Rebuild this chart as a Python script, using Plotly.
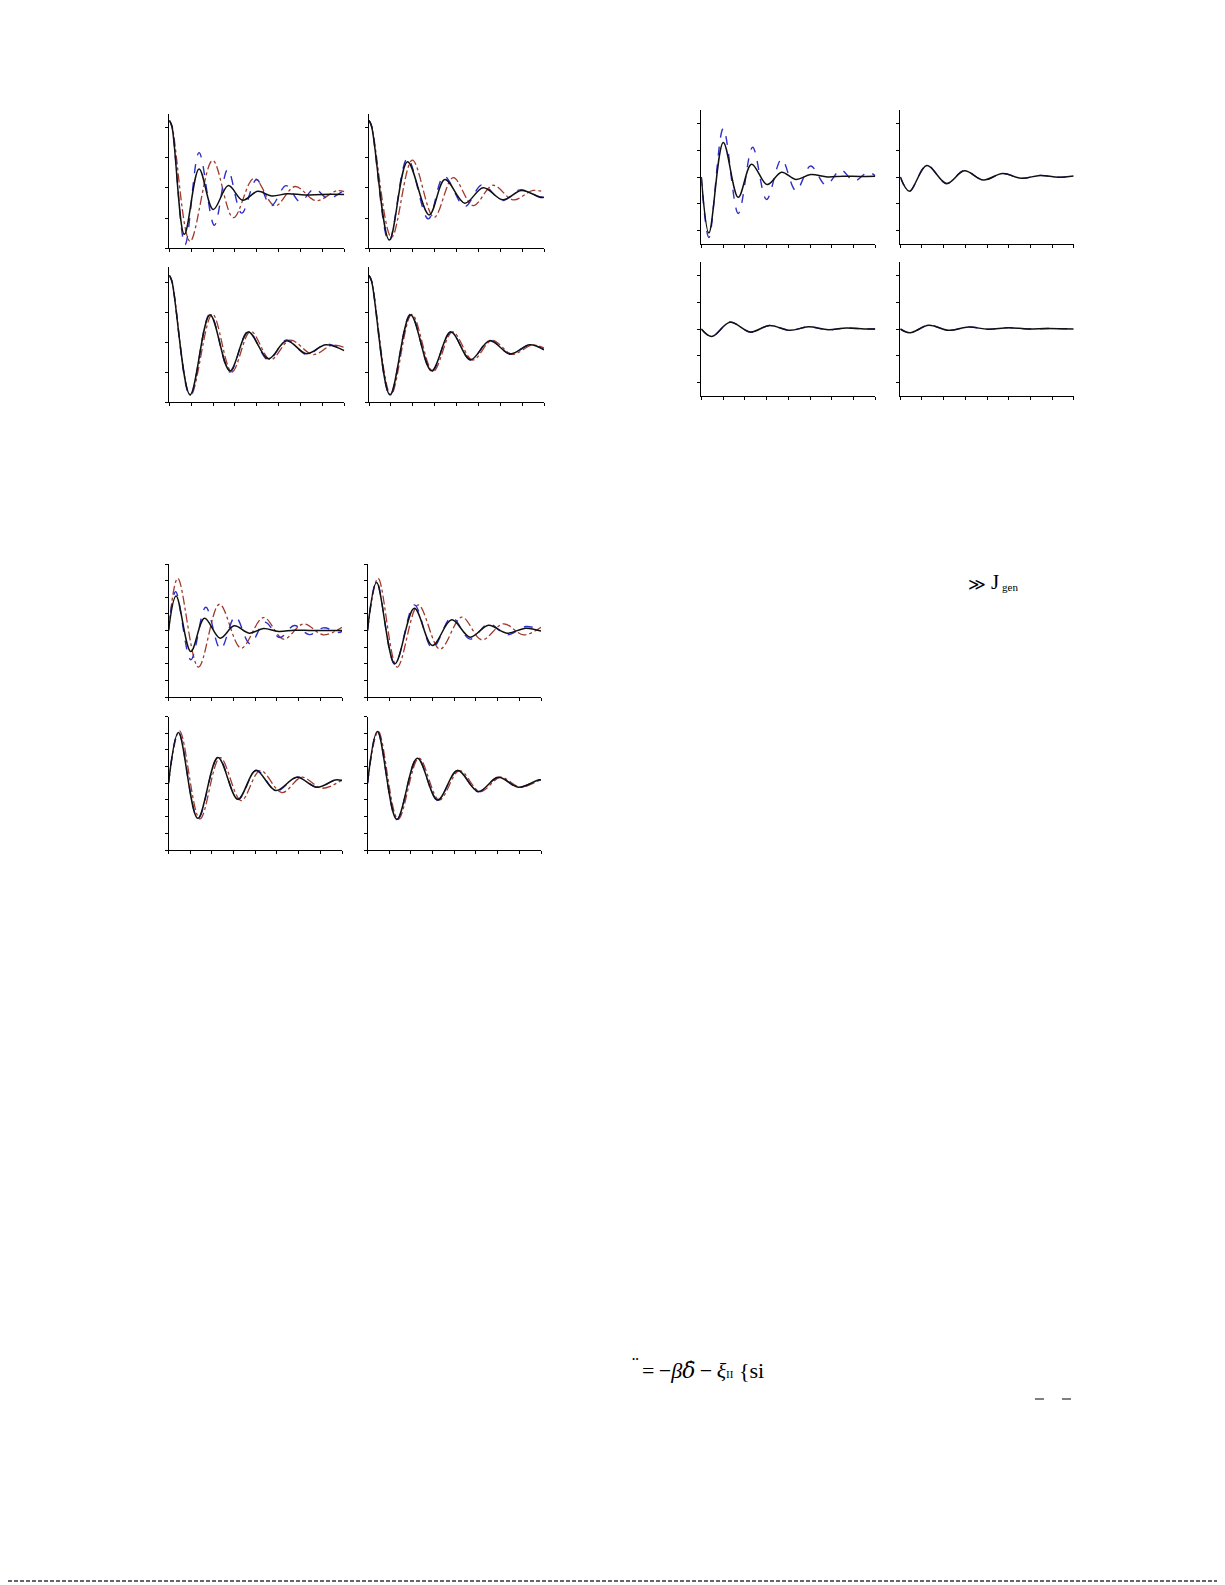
import plotly.graph_objects as go

W, H = 1225, 1585          # page size
OFF = 8                    # default body margin of the html page
FW, FH = W - OFF, H - OFF  # figure size so that the page is exactly filled

# ---------------- data: (time, value) points ----------------
# Group 1 (top-left block)
A1_black = [(0,2.22),(0.12,2.02),(0.69,-1.54),(1.36,0.62),(2.01,-0.72),(2.70,0.07),(3.35,-0.41),(4.04,-0.12),(4.68,-0.27),(5.4,-0.2),(6.2,-0.24),(7.0,-0.22),(8,-0.22)]
A1_blue = [(0,2.22),(0.12,2.02),(0.72,-1.88),(1.36,1.16),(2.06,-1.24),(2.67,0.6),(3.31,-0.84),(3.99,0.27),(4.65,-0.6),(5.34,0.07),(5.98,-0.46),(6.63,-0.04),(7.27,-0.36),(7.93,-0.13),(8,-0.14)]
A1_red = [(0,2.22),(0.12,2.05),(0.95,-1.77),(1.98,0.9),(2.93,-0.99),(3.87,0.31),(4.83,-0.6),(5.75,0.04),(6.71,-0.43),(7.65,-0.1),(8,-0.13)]

A2_black = [(0,2.22),(0.12,2.02),(0.93,-1.73),(1.76,0.86),(2.75,-0.9),(3.47,0.27),(4.38,-0.51),(5.22,0.0),(6.13,-0.4),(6.97,-0.09),(7.85,-0.32),(8,-0.31)]
A2_blue = [(0,2.22),(0.12,2.02),(0.91,-1.78),(1.76,0.97),(2.71,-1.03),(3.43,0.38),(4.38,-0.62),(5.17,0.1),(6.1,-0.42),(6.9,-0.07),(7.8,-0.3),(8,-0.28)]
A2_red = [(0,2.22),(0.12,2.04),(1.03,-1.64),(1.98,0.91),(2.97,-0.98),(3.85,0.33),(4.76,-0.59),(5.67,0.08),(6.59,-0.4),(7.5,-0.09),(8,-0.14)]

A3_black = [(0,2.22),(0.12,2.02),(0.95,-1.76),(1.86,0.91),(2.77,-0.96),(3.61,0.33),(4.53,-0.56),(5.36,0.04),(6.28,-0.39),(7.16,-0.09),(8,-0.29)]
A3_blue = [(0,2.22),(0.12,2.02),(0.95,-1.8),(1.86,0.94),(2.77,-1.0),(3.61,0.36),(4.53,-0.6),(5.36,0.07),(6.28,-0.42),(7.16,-0.07),(8,-0.28)]
A3_red = [(0,2.22),(0.12,2.04),(0.97,-1.78),(1.97,0.93),(2.86,-1.0),(3.72,0.36),(4.63,-0.59),(5.52,0.06),(6.58,-0.42),(7.42,-0.11),(8,-0.18)]

A4_black = [(0,2.22),(0.12,2.02),(0.96,-1.76),(1.9,0.91),(2.86,-0.96),(3.74,0.33),(4.64,-0.59),(5.52,0.04),(6.46,-0.4),(7.35,-0.09),(8,-0.26)]
A4_blue = [(0,2.22),(0.12,2.02),(0.96,-1.78),(1.9,0.93),(2.86,-0.98),(3.74,0.34),(4.64,-0.6),(5.52,0.05),(6.46,-0.41),(7.35,-0.09),(8,-0.25)]
A4_red = [(0,2.22),(0.12,2.04),(1.0,-1.76),(1.96,0.92),(2.93,-0.98),(3.82,0.34),(4.74,-0.6),(5.62,0.05),(6.56,-0.41),(7.45,-0.1),(8,-0.2)]

# Group 2 (top-right block)
B1_black = [(0,0),(0.35,-2.09),(1.01,1.29),(1.7,-0.76),(2.31,0.48),(3.03,-0.28),(3.69,0.18),(4.34,-0.09),(5.03,0.09),(5.8,0.0),(6.5,0.03),(7.3,0.02),(8,0.03)]
B1_blue = [(0,0),(0.35,-2.26),(1.01,1.81),(1.7,-1.36),(2.36,1.11),(3.0,-0.84),(3.69,0.66),(4.35,-0.51),(5.03,0.41),(5.73,-0.3),(6.41,0.26),(7.02,-0.15),(7.68,0.18),(8,0.04)]

B2_black = [(0,0),(0.42,-0.53),(1.22,0.43),(2.14,-0.24),(2.95,0.23),(3.83,-0.11),(4.72,0.13),(5.6,-0.05),(6.45,0.06),(7.29,-0.01),(8,0.04)]
B2_blue = [(0,0),(0.42,-0.54),(1.22,0.44),(2.14,-0.25),(2.95,0.24),(3.83,-0.12),(4.72,0.13),(5.6,-0.05),(6.45,0.06),(7.29,-0.01),(8,0.04)]

B3_black = [(0,0),(0.48,-0.28),(1.32,0.25),(2.27,-0.11),(3.13,0.13),(4.08,-0.05),(4.92,0.08),(5.84,-0.03),(6.68,0.04),(7.5,0.0),(8,0.0)]
B3_blue = [(0,0),(0.48,-0.29),(1.32,0.26),(2.27,-0.12),(3.13,0.13),(4.08,-0.05),(4.92,0.08),(5.84,-0.03),(6.68,0.04),(7.5,0.0),(8,0.0)]

B4_black = [(0,0),(0.45,-0.14),(1.31,0.14),(2.22,-0.05),(3.15,0.075),(4.05,-0.01),(5.0,0.05),(5.9,0.0),(6.8,0.02),(8,0.0)]
B4_blue = [(0,0),(0.45,-0.15),(1.31,0.15),(2.22,-0.05),(3.15,0.08),(4.05,-0.01),(5.0,0.05),(5.9,0.0),(6.8,0.02),(8,0.0)]

# Group 3 (lower-left block)
C1_black = [(0,0),(0.35,2.08),(1.03,-1.26),(1.66,0.74),(2.38,-0.46),(3.03,0.28),(3.72,-0.16),(4.38,0.12),(5.08,-0.06),(5.8,0.02),(6.6,0.0),(7.4,0.0),(8,0.0)]
C1_blue = [(0,0),(0.33,2.34),(1.03,-1.76),(1.72,1.4),(2.4,-1.12),(3.08,0.84),(3.76,-0.8),(4.45,0.5),(5.13,-0.42),(5.8,0.3),(6.5,-0.25),(7.15,0.16),(7.85,-0.12),(8,-0.05)]
C1_red = [(0,0),(0.43,3.14),(1.38,-2.2),(2.35,1.58),(3.35,-1.06),(4.38,0.78),(5.31,-0.52),(6.23,0.4),(7.15,-0.26),(8,0.2)]

C2_black = [(0,0),(0.42,2.88),(1.26,-2.0),(2.16,1.34),(2.99,-0.9),(3.88,0.64),(4.73,-0.4),(5.58,0.32),(6.43,-0.16),(7.3,0.14),(8,-0.04)]
C2_blue = [(0,0),(0.42,2.92),(1.26,-2.04),(2.16,1.54),(2.99,-1.06),(3.88,0.78),(4.73,-0.52),(5.58,0.4),(6.43,-0.26),(7.3,0.24),(8,0.02)]
C2_red = [(0,0),(0.49,3.14),(1.37,-2.2),(2.34,1.54),(3.34,-1.12),(4.35,0.8),(5.27,-0.56),(6.27,0.4),(7.2,-0.26),(8,0.2)]

C3_black = [(0,0),(0.46,3.04),(1.35,-2.1),(2.28,1.54),(3.2,-0.96),(4.03,0.76),(4.95,-0.44),(5.92,0.36),(6.85,-0.24),(7.69,0.2),(8,0.16)]
C3_blue = [(0,0),(0.46,3.06),(1.36,-2.12),(2.29,1.56),(3.21,-0.98),(4.05,0.78),(4.97,-0.46),(5.94,0.37),(6.87,-0.25),(7.7,0.2),(8,0.16)]
C3_red = [(0,0),(0.51,3.14),(1.45,-2.14),(2.38,1.54),(3.35,-1.04),(4.23,0.76),(5.23,-0.56),(6.15,0.36),(7.08,-0.3),(8,0.2)]

C4_black = [(0,0),(0.46,3.1),(1.35,-2.16),(2.3,1.5),(3.23,-1.0),(4.15,0.76),(5.11,-0.5),(6.03,0.36),(6.96,-0.24),(7.88,0.2),(8,0.2)]
C4_blue = [(0,0),(0.46,3.12),(1.35,-2.18),(2.3,1.52),(3.23,-1.02),(4.15,0.77),(5.11,-0.51),(6.03,0.37),(6.96,-0.25),(7.88,0.2),(8,0.2)]
C4_red = [(0,0),(0.5,3.1),(1.41,-2.16),(2.37,1.5),(3.31,-1.0),(4.24,0.76),(5.2,-0.5),(6.13,0.36),(7.06,-0.24),(7.97,0.2),(8,0.2)]

# ---------------- panel layout (page pixel boxes: x0, x1, y_top, y_bottom) ----------------
panels = [
    ("A1", (169.3, 344.3, 113.5, 248.3), (-2, 2.45), [A1_red, A1_blue, A1_black]),
    ("A2", (369.0, 544.0, 113.5, 248.3), (-2, 2.45), [A2_red, A2_blue, A2_black]),
    ("A3", (169.3, 344.3, 267.0, 402.0), (-2, 2.5), [A3_red, A3_blue, A3_black]),
    ("A4", (369.0, 544.0, 267.0, 402.0), (-2, 2.5), [A4_red, A4_blue, A4_black]),
    ("B1", (701.3, 875.3, 110.0, 244.0), (-2.5, 2.5), [None, B1_blue, B1_black]),
    ("B2", (900.3, 1073.7, 110.0, 244.0), (-2.5, 2.5), [None, B2_blue, B2_black]),
    ("B3", (701.3, 875.3, 262.3, 395.7), (-2.5, 2.5), [None, B3_blue, B3_black]),
    ("B4", (900.3, 1073.7, 262.3, 395.7), (-2.5, 2.5), [None, B4_blue, B4_black]),
    ("C1", (168.5, 342.0, 564.0, 697.0), (-4, 4), [C1_red, C1_blue, C1_black]),
    ("C2", (367.5, 541.0, 564.0, 697.0), (-4, 4), [C2_red, C2_blue, C2_black]),
    ("C3", (168.5, 342.0, 716.5, 850.0), (-4, 4), [C3_red, C3_blue, C3_black]),
    ("C4", (367.5, 541.0, 716.5, 850.0), (-4, 4), [C4_red, C4_blue, C4_black]),
]

styles = [
    dict(color="#a03a2c", width=1.3, dash="dashdot"),
    dict(color="#2e2ec8", width=1.4, dash="dash"),
    dict(color="#111111", width=1.5, dash="solid"),
]


def px(x):
    return (x - OFF) / FW


def py(y):
    return 1 - (y - OFF) / FH


fig = go.Figure()
layout = dict(
    width=FW, height=FH, margin=dict(l=0, r=0, t=0, b=0, autoexpand=False),
    paper_bgcolor="white", plot_bgcolor="white", showlegend=False,
)

for i, (name, (x0, x1, yt, yb), yr, curves) in enumerate(panels, start=1):
    xa = "xaxis" if i == 1 else f"xaxis{i}"
    ya = "yaxis" if i == 1 else f"yaxis{i}"
    xr = "x" if i == 1 else f"x{i}"
    yrf = "y" if i == 1 else f"y{i}"
    axis_common = dict(showgrid=False, zeroline=False, showline=True, linecolor="black",
                       linewidth=1, ticks="outside", ticklen=3, tickcolor="black",
                       tickwidth=1, showticklabels=False)
    layout[xa] = dict(domain=[px(x0), px(x1)], range=[0, 8], tick0=0, dtick=1,
                      anchor=yrf, **axis_common)
    layout[ya] = dict(domain=[py(yb), py(yt)], range=list(yr), tick0=0, dtick=1,
                      anchor=xr, **axis_common)
    for curve, st in zip(curves, styles):
        if curve is None:
            continue
        fig.add_trace(go.Scatter(
            x=[p[0] for p in curve], y=[p[1] for p in curve],
            mode="lines", line=dict(shape="spline", smoothing=1.0, **st),
            xaxis=xr, yaxis=yrf, hoverinfo="skip",
        ))

serif = "Liberation Serif, DejaVu Serif, serif"


def ann(text, x, y, size, xanchor="left", yanchor="middle"):
    return dict(text=text, x=px(x), y=py(y), xref="paper", yref="paper",
                xanchor=xanchor, yanchor=yanchor, showarrow=False,
                font=dict(family=serif, size=size, color="black"))


formula = ("=\u2009−<i>β</i><span style='font-family:DejaVu Serif'><i>δ\u0307</i></span>\u2009−\u2009"
           "<i>ξ</i><span style='font-size:11px'>II</span> {si")

annotations = [
    ann("≫", 966, 584, 17),
    ann("J", 989, 582, 21),
    ann("gen", 1000, 587, 11),
    ann("¨", 630, 1364, 20),
    ann(formula, 640, 1370, 22),
]
layout["annotations"] = annotations

layout["shapes"] = [
    dict(type="line", xref="paper", yref="paper", x0=px(1035), x1=px(1044),
         y0=py(1399), y1=py(1399), line=dict(color="black", width=1)),
    dict(type="line", xref="paper", yref="paper", x0=px(1062), x1=px(1071),
         y0=py(1399), y1=py(1399), line=dict(color="black", width=1)),
    dict(type="line", xref="paper", yref="paper", x0=0, x1=1,
         y0=py(1581), y1=py(1581), line=dict(color="#333344", width=1.5, dash="4px,2px")),
]

fig.update_layout(**layout)
fig.write_html("out.html")
